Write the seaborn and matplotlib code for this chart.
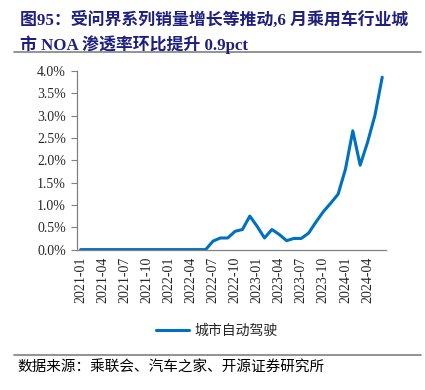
import numpy as np
import pandas as pd
import matplotlib
matplotlib.use('Agg')
import matplotlib.pyplot as plt
import seaborn as sb

# monthly urban NOA penetration, %
months = [str(p) for p in pd.period_range('2021-01', '2024-06', freq='M')]
noa = [0, 0, 0, 0, 0, 0, 0, 0, 0, 0, 0, 0,
       0, 0, 0, 0, 0, 0, 0.19, 0.26, 0.26, 0.41, 0.45, 0.75,
       0.52, 0.26, 0.45, 0.34, 0.20, 0.25, 0.25, 0.37, 0.62, 0.85, 1.04, 1.24,
       1.80, 2.66, 1.89, 2.40, 3.00, 3.86]
tick_labels = ['2021-01', '2021-04', '2021-07', '2021-10', '2022-01', '2022-04',
               '2022-07', '2022-10', '2023-01', '2023-04', '2023-07', '2023-10',
               '2024-01', '2024-04']
yticks = [0, 0.5, 1.0, 1.5, 2.0, 2.5, 3.0, 3.5, 4.0]
series_name = '城市自动驾驶'

df = pd.DataFrame({'month': months, 'idx': range(len(months)), 'val': noa})

sb.set_style('white')
plt.rcParams['font.family'] = ['Liberation Serif', 'Noto Sans CJK SC']

fig = plt.figure(figsize=(4.25, 3.9), dpi=100)
ax = fig.add_axes([0.181, 0.360, 0.727, 0.458])

sb.lineplot(data=df, x='idx', y='val', ax=ax, color='#0070C0', linewidth=2.2, label=series_name, legend=False)

ax.set_xlim(-0.5, len(months) - 0.5)
ax.set_ylim(0, 4.0)
ax.set_yticks(yticks)
ax.set_yticklabels(['%.1f%%' % v for v in yticks], fontsize=10)
pos = [months.index(t) for t in tick_labels]
ax.set_xticks(pos)
ax.set_xticklabels(tick_labels, rotation=90, fontsize=10)
ax.set_xticks(np.arange(-0.5, len(months), 3), minor=True)
ax.tick_params(axis='x', which='major', length=0, pad=5)
ax.tick_params(axis='x', which='minor', direction='in', length=4, color='#808080', width=0.8)
ax.tick_params(axis='y', direction='out', length=4, color='#808080', width=0.8, left=True, pad=4)
ax.set_xlabel('')
ax.set_ylabel('')
for s in ['top', 'right']:
    ax.spines[s].set_visible(False)
for s in ['left', 'bottom']:
    ax.spines[s].set_color('#808080')
    ax.spines[s].set_linewidth(0.9)

fig.text(0.047, 0.948, '图95：受问界系列销量增长等推动,6 月乘用车行业城',
         fontsize=12.2, fontweight='bold', color='#1F1F80', va='center')
fig.text(0.047, 0.885, '市 NOA 渗透率环比提升 0.9pct',
         fontsize=12.2, fontweight='bold', color='#1F1F80', va='center')
fig.add_artist(plt.Line2D([0.033, 0.99], [0.866, 0.866], color='#808080', linewidth=1.2))
fig.add_artist(plt.Line2D([0.033, 0.99], [0.09, 0.09], color='#808080', linewidth=1.2))

h, l = ax.get_legend_handles_labels()
fig.legend(h, l, loc='center', bbox_to_anchor=(0.51, 0.151), frameon=False,
           fontsize=10, handlelength=2.4, handletextpad=0.4)

fig.text(0.042, 0.057, '数据来源：乘联会、汽车之家、开源证券研究所', fontsize=10.5, va='center', color='black')

fig.savefig('out.png', dpi=100)
